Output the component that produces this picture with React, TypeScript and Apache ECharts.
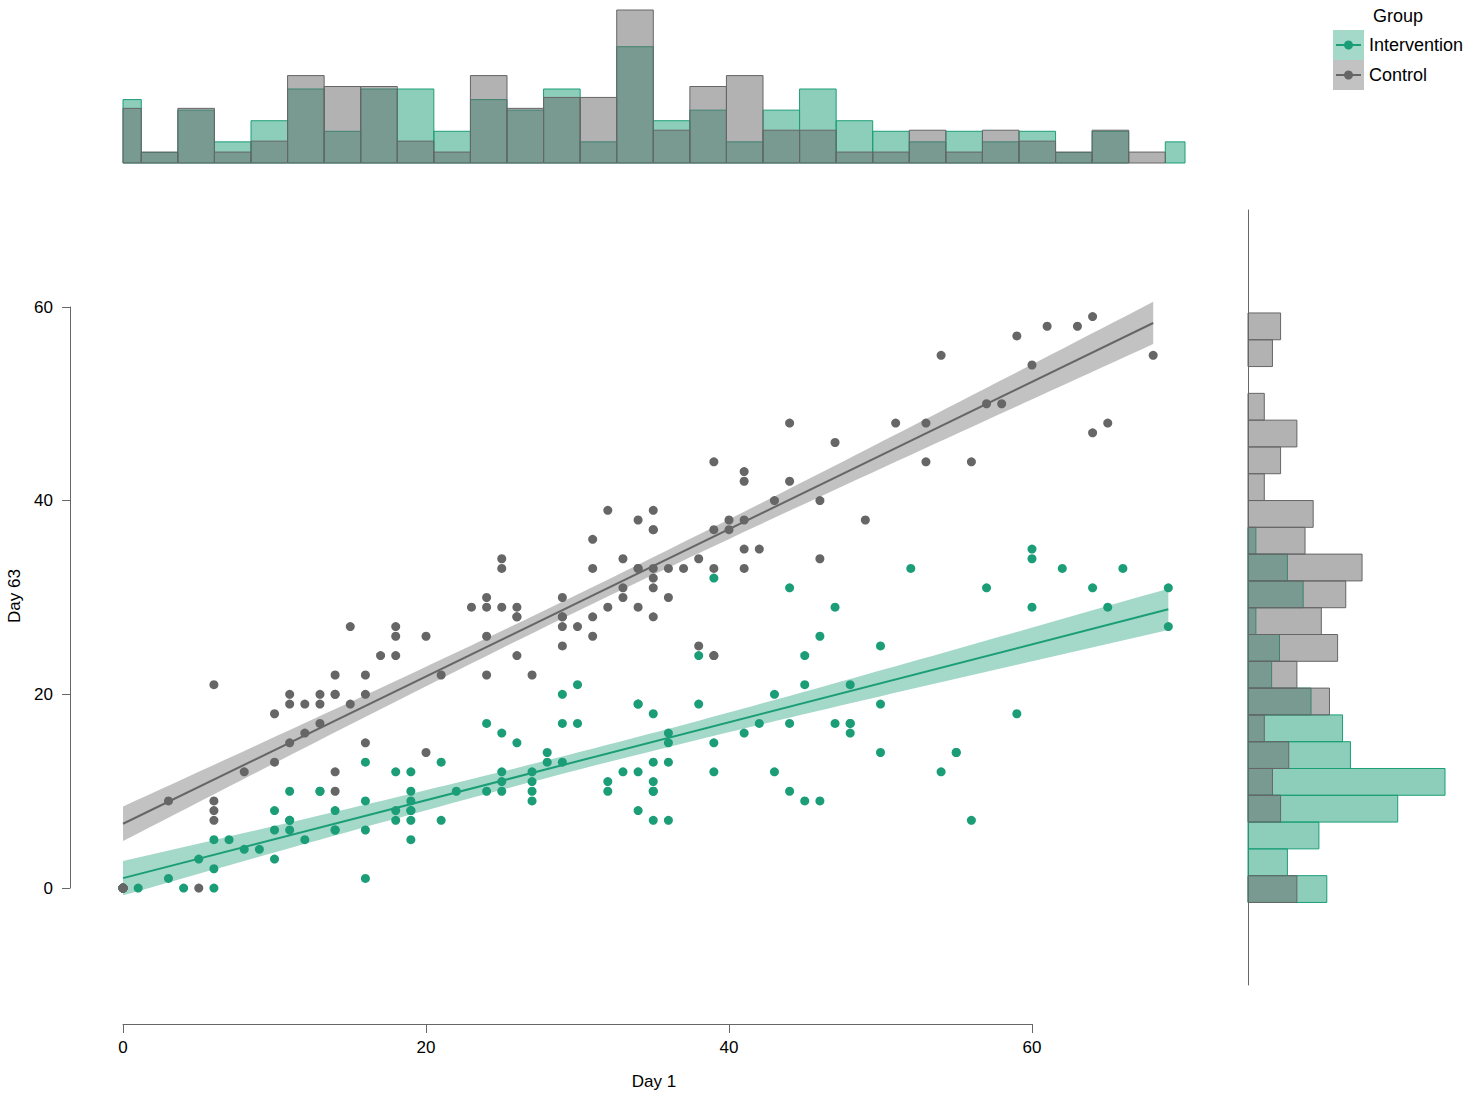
import React, { useEffect, useRef } from "react";
import * as echarts from "echarts";

// ---------------- data ----------------
const groupNames = ["Intervention", "Control"];

// [Day 1, Day 63] per participant (duplicates overlap in the picture)
const interventionPoints: number[][] = [
  [0, 0], [0, 0], [0, 0], [0, 0], [0, 0], [1, 0], [3, 1], [4, 0], [5, 3], [6, 0], [6, 2], [6, 5], [7, 5], [8, 4], [9, 4],
  [10, 3], [10, 6], [10, 8], [11, 10], [11, 7], [11, 7], [11, 6], [12, 5], [13, 10], [13, 10], [14, 8], [14, 6], [14, 6],
  [16, 13], [16, 9], [16, 6], [16, 1], [18, 12], [18, 8], [18, 7], [19, 12], [19, 10], [19, 9], [19, 8], [19, 8], [19, 7],
  [19, 5], [21, 13], [21, 7], [22, 10], [24, 17], [24, 10], [25, 16], [25, 12], [25, 11], [25, 10], [26, 15], [27, 12],
  [27, 11], [27, 10], [27, 9], [28, 14], [28, 13], [29, 20], [29, 17], [29, 13], [30, 21], [30, 17], [32, 11], [32, 10],
  [33, 12], [34, 19], [34, 19], [34, 12], [34, 8], [35, 18], [35, 13], [35, 11], [35, 10], [35, 10], [35, 7], [36, 16],
  [36, 15], [36, 13], [36, 7], [38, 24], [38, 19], [39, 32], [39, 15], [39, 12], [41, 16], [42, 17], [43, 20], [43, 12],
  [44, 31], [44, 17], [44, 10], [45, 24], [45, 21], [45, 9], [46, 26], [46, 9], [47, 29], [47, 17], [48, 21], [48, 17],
  [48, 17], [48, 16], [50, 25], [50, 19], [50, 14], [52, 33], [54, 12], [55, 14], [55, 14], [56, 7], [57, 31], [59, 18],
  [60, 35], [60, 34], [60, 29], [62, 33], [64, 31], [65, 29], [66, 33], [69, 31], [69, 27],
];

const controlPoints: number[][] = [
  [0, 0], [0, 0], [0, 0], [0, 0], [0, 0], [3, 9], [5, 0], [6, 21], [6, 9], [6, 8], [6, 7], [8, 12], [10, 18], [10, 13],
  [11, 20], [11, 19], [11, 15], [12, 19], [12, 16], [13, 20], [13, 19], [13, 17], [14, 22], [14, 20], [14, 20], [14, 12],
  [14, 10], [15, 27], [15, 19], [16, 22], [16, 20], [16, 15], [17, 24], [18, 27], [18, 26], [18, 24], [20, 26], [20, 14],
  [21, 22], [23, 29], [24, 30], [24, 29], [24, 26], [24, 22], [25, 34], [25, 33], [25, 29], [26, 29], [26, 28], [26, 28],
  [26, 24], [27, 22], [29, 30], [29, 28], [29, 28], [29, 27], [29, 25], [30, 27], [31, 36], [31, 33], [31, 28], [31, 26],
  [32, 39], [32, 29], [33, 34], [33, 31], [33, 30], [34, 38], [34, 33], [34, 33], [34, 29], [35, 39], [35, 37], [35, 37],
  [35, 33], [35, 32], [35, 31], [35, 28], [36, 33], [36, 30], [37, 33], [38, 34], [38, 25], [39, 44], [39, 37], [39, 33],
  [39, 24], [39, 24], [40, 38], [40, 37], [41, 43], [41, 42], [41, 38], [41, 35], [41, 33], [42, 35], [43, 40], [44, 48],
  [44, 42], [46, 40], [46, 34], [47, 46], [49, 38], [51, 48], [53, 48], [53, 44], [54, 55], [56, 44], [57, 50], [58, 50],
  [59, 57], [60, 54], [61, 58], [63, 58], [64, 59], [64, 47], [65, 48], [68, 55],
];

const axisTicks = [0, 20, 40, 60];

// marginal histogram of Day 1 (30 bins, counts per bin)
const xHistStart = -1.207;
const xHistWidth = 2.414;
const xHistClip = [0, 70.1];
const xHistIntervention = [6, 1, 5, 2, 4, 7, 3, 7, 7, 3, 6, 5, 7, 2, 11, 4, 5, 2, 5, 7, 4, 3, 2, 3, 2, 3, 1, 3, 0, 2];
const xHistControl = [5, 1, 5, 1, 2, 8, 7, 7, 2, 1, 8, 5, 6, 6, 14, 3, 7, 8, 3, 3, 1, 1, 3, 1, 3, 2, 1, 3, 1, 0];

// marginal histogram of Day 63 (22 bins, bottom to top)
const yHistStart = -1.48;
const yHistWidth = 2.766;
const yHistIntervention = [10, 5, 9, 19, 25, 13, 12, 8, 3, 4, 1, 7, 5, 1, 0, 0, 0, 0, 0, 0, 0, 0];
const yHistControl = [6, 0, 0, 4, 3, 5, 2, 10, 6, 11, 9, 12, 14, 7, 8, 2, 4, 6, 2, 0, 3, 4];

// ---------------- style ----------------
const GREEN = "#1b9e77";
const GRAY = "#666666";
const GREEN_HIST = "rgba(27,158,119,0.5)";
const GRAY_HIST = "rgba(102,102,102,0.5)";
const GREEN_BAND = "rgba(27,158,119,0.4)";
const GRAY_BAND = "rgba(102,102,102,0.4)";
const FONT = "'Liberation Sans', Arial, Helvetica, sans-serif";

// ---------------- helpers ----------------
function linearFit(pts: number[][]) {
  const n = pts.length;
  const xbar = pts.reduce((s, p) => s + p[0], 0) / n;
  const ybar = pts.reduce((s, p) => s + p[1], 0) / n;
  let sxx = 0, sxy = 0;
  pts.forEach((p) => { sxx += (p[0] - xbar) ** 2; sxy += (p[0] - xbar) * (p[1] - ybar); });
  const b = sxy / sxx;
  const a = ybar - b * xbar;
  let sse = 0;
  pts.forEach((p) => { sse += (p[1] - a - b * p[0]) ** 2; });
  const df = n - 2;
  const s2 = sse / df;
  const z = 1.959964;
  const t = z + (z ** 3 + z) / (4 * df) + (5 * z ** 5 + 16 * z ** 3 + 3 * z) / (96 * df * df);
  const xs = pts.map((p) => p[0]);
  const xmin = Math.min(...xs), xmax = Math.max(...xs);
  const steps = 80;
  const band: number[][] = [];
  for (let i = 0; i <= steps; i++) {
    const x = xmin + ((xmax - xmin) * i) / steps;
    const yhat = a + b * x;
    const se = Math.sqrt(s2 * (1 / n + (x - xbar) ** 2 / sxx));
    band.push([x, yhat - t * se, yhat + t * se]);
  }
  return { line: [[xmin, a + b * xmin], [xmax, a + b * xmax]], band };
}

function histBins(counts: number[], start: number, width: number, lo: number, hi: number) {
  const total = counts.reduce((s, c) => s + c, 0);
  const out: number[][] = [];
  counts.forEach((c, i) => {
    if (c <= 0) return;
    out.push([Math.max(start + i * width, lo), Math.min(start + (i + 1) * width, hi), c / (total * width)]);
  });
  return out;
}

const fitI = linearFit(interventionPoints);
const fitC = linearFit(controlPoints);

const xbI = histBins(xHistIntervention, xHistStart, xHistWidth, xHistClip[0], xHistClip[1]);
const xbC = histBins(xHistControl, xHistStart, xHistWidth, xHistClip[0], xHistClip[1]);
const ybI = histBins(yHistIntervention, yHistStart, yHistWidth, -Infinity, Infinity);
const ybC = histBins(yHistControl, yHistStart, yHistWidth, -Infinity, Infinity);
const xHistMax = Math.max(...xbI.map((d) => d[2]), ...xbC.map((d) => d[2]));
const yHistMax = Math.max(...ybI.map((d) => d[2]), ...ybC.map((d) => d[2]));

function bandSeries(band: number[][], color: string) {
  return {
    type: "custom",
    xAxisIndex: 0,
    yAxisIndex: 0,
    data: [[band[0][0], band[0][1]]],
    z: 1,
    silent: true,
    renderItem: (_p: any, api: any) => {
      const upper = band.map((d) => api.coord([d[0], d[2]]));
      const lower = band.map((d) => api.coord([d[0], d[1]])).reverse();
      return { type: "polygon", shape: { points: upper.concat(lower) }, style: { fill: color } };
    },
  };
}

function topHist(data: number[][], fill: string, stroke: string, z: number) {
  return {
    type: "custom",
    xAxisIndex: 1,
    yAxisIndex: 1,
    data,
    z,
    silent: true,
    encode: { x: [0, 1], y: 2 },
    renderItem: (_p: any, api: any) => {
      const p0 = api.coord([api.value(0), 0]);
      const p1 = api.coord([api.value(1), api.value(2)]);
      return {
        type: "rect",
        shape: { x: p0[0], y: p1[1], width: p1[0] - p0[0], height: p0[1] - p1[1] },
        style: { fill, stroke, lineWidth: 1 },
      };
    },
  };
}

function rightHist(data: number[][], fill: string, stroke: string, z: number) {
  return {
    type: "custom",
    xAxisIndex: 2,
    yAxisIndex: 2,
    data,
    z,
    silent: true,
    encode: { x: 2, y: [0, 1] },
    renderItem: (_p: any, api: any) => {
      const p0 = api.coord([0, api.value(0)]);
      const p1 = api.coord([api.value(2), api.value(1)]);
      return {
        type: "rect",
        shape: { x: p0[0], y: p1[1], width: p1[0] - p0[0], height: p0[1] - p1[1] },
        style: { fill, stroke, lineWidth: 1 },
      };
    },
  };
}

const hiddenAxis = (gridIndex: number, min: number, max: number) => ({
  type: "value",
  gridIndex,
  min,
  max,
  show: false,
  splitLine: { show: false },
});

function buildOption() {
  const axisLineStyle = { color: "#666666", width: 1 };
  return {
    animation: false,
    backgroundColor: "#ffffff",
    grid: [
      { left: 70, top: 210, width: 1115, height: 775, outerBoundsMode: "none", containLabel: false },
      { left: 123, top: 10, width: 1062, height: 153, outerBoundsMode: "none", containLabel: false },
      { left: 1248, top: 210, width: 197, height: 775, outerBoundsMode: "none", containLabel: false },
      { left: 123, top: 1023, width: 909, height: 1, outerBoundsMode: "none", containLabel: false },
      { left: 70, top: 307, width: 1, height: 581, outerBoundsMode: "none", containLabel: false },
    ],
    xAxis: [
      hiddenAxis(0, -3.5, 70.1),
      hiddenAxis(1, xHistClip[0], xHistClip[1]),
      hiddenAxis(2, 0, yHistMax),
      {
        type: "value",
        gridIndex: 3,
        position: "bottom",
        min: axisTicks[0],
        max: axisTicks[axisTicks.length - 1],
        interval: axisTicks[1] - axisTicks[0],
        axisLine: { show: true, lineStyle: axisLineStyle },
        axisTick: { show: true, length: 9, lineStyle: axisLineStyle },
        axisLabel: { show: true, margin: 15, color: "#000000", fontSize: 17, fontFamily: FONT },
        splitLine: { show: false },
      },
      hiddenAxis(4, 0, 1),
    ],
    yAxis: [
      hiddenAxis(0, -10, 70),
      hiddenAxis(1, 0, xHistMax),
      {
        type: "value",
        gridIndex: 2,
        min: -10,
        max: 70,
        axisLine: { show: true, lineStyle: axisLineStyle },
        axisTick: { show: false },
        axisLabel: { show: false },
        splitLine: { show: false },
      },
      hiddenAxis(3, 0, 1),
      {
        type: "value",
        gridIndex: 4,
        position: "left",
        min: axisTicks[0],
        max: axisTicks[axisTicks.length - 1],
        interval: axisTicks[1] - axisTicks[0],
        axisLine: { show: true, lineStyle: axisLineStyle },
        axisTick: { show: true, length: 8, lineStyle: axisLineStyle },
        axisLabel: { show: true, margin: 17, color: "#000000", fontSize: 17, fontFamily: FONT },
        splitLine: { show: false },
      },
    ],
    series: [
      bandSeries(fitI.band, GREEN_BAND),
      bandSeries(fitC.band, GRAY_BAND),
      {
        type: "line",
        name: groupNames[0] + " fit",
        xAxisIndex: 0,
        yAxisIndex: 0,
        data: fitI.line,
        symbol: "none",
        z: 2,
        silent: true,
        lineStyle: { color: GREEN, width: 2 },
      },
      {
        type: "line",
        name: groupNames[1] + " fit",
        xAxisIndex: 0,
        yAxisIndex: 0,
        data: fitC.line,
        symbol: "none",
        z: 2,
        silent: true,
        lineStyle: { color: GRAY, width: 2 },
      },
      {
        type: "scatter",
        name: groupNames[0],
        xAxisIndex: 0,
        yAxisIndex: 0,
        data: interventionPoints,
        symbolSize: 9,
        z: 3,
        itemStyle: { color: GREEN, opacity: 1 },
      },
      {
        type: "scatter",
        name: groupNames[1],
        xAxisIndex: 0,
        yAxisIndex: 0,
        data: controlPoints,
        symbolSize: 9,
        z: 4,
        itemStyle: { color: GRAY, opacity: 1 },
      },
      topHist(xbI, GREEN_HIST, GREEN, 2),
      topHist(xbC, GRAY_HIST, GRAY, 3),
      rightHist(ybI, GREEN_HIST, GREEN, 2),
      rightHist(ybC, GRAY_HIST, GRAY, 3),
    ],
    graphic: [
      {
        type: "text",
        x: 654,
        y: 1081,
        style: {
          text: "Day 1", fontSize: 17, fontFamily: FONT, fill: "#000000",
          align: "center", verticalAlign: "middle", textAlign: "center", textVerticalAlign: "middle",
        },
      },
      {
        type: "text",
        x: 14,
        y: 596,
        rotation: Math.PI / 2,
        style: {
          text: "Day 63", fontSize: 17, fontFamily: FONT, fill: "#000000",
          align: "center", verticalAlign: "middle", textAlign: "center", textVerticalAlign: "middle",
        },
      },
      {
        type: "text",
        x: 1398,
        y: 16,
        style: {
          text: "Group", fontSize: 18, fontFamily: FONT, fill: "#000000",
          align: "center", verticalAlign: "middle", textAlign: "center", textVerticalAlign: "middle",
        },
      },
      { type: "rect", shape: { x: 1333, y: 30, width: 31, height: 30 }, style: { fill: GREEN_BAND } },
      { type: "line", shape: { x1: 1336, y1: 45, x2: 1361, y2: 45 }, style: { stroke: GREEN, lineWidth: 2 } },
      { type: "circle", shape: { cx: 1348.5, cy: 45, r: 4.5 }, style: { fill: GREEN } },
      { type: "rect", shape: { x: 1333, y: 60, width: 31, height: 30 }, style: { fill: GRAY_BAND } },
      { type: "line", shape: { x1: 1336, y1: 75, x2: 1361, y2: 75 }, style: { stroke: GRAY, lineWidth: 2 } },
      { type: "circle", shape: { cx: 1348.5, cy: 75, r: 4.5 }, style: { fill: GRAY } },
      {
        type: "text",
        x: 1369,
        y: 45,
        style: {
          text: groupNames[0], fontSize: 18, fontFamily: FONT, fill: "#000000",
          align: "left", verticalAlign: "middle", textAlign: "left", textVerticalAlign: "middle",
        },
      },
      {
        type: "text",
        x: 1369,
        y: 75,
        style: {
          text: groupNames[1], fontSize: 18, fontFamily: FONT, fill: "#000000",
          align: "left", verticalAlign: "middle", textAlign: "left", textVerticalAlign: "middle",
        },
      },
    ],
  };
}

export default function App() {
  const ref = useRef<HTMLDivElement>(null);
  useEffect(() => {
    if (!ref.current) return;
    const chart = echarts.init(ref.current, null, { renderer: "svg" });
    chart.setOption(buildOption() as any);
    return () => chart.dispose();
  }, []);
  return (
    <div
      ref={ref}
      style={{ position: "absolute", left: 0, top: 0, width: 1471, height: 1097, background: "#ffffff" }}
    />
  );
}
